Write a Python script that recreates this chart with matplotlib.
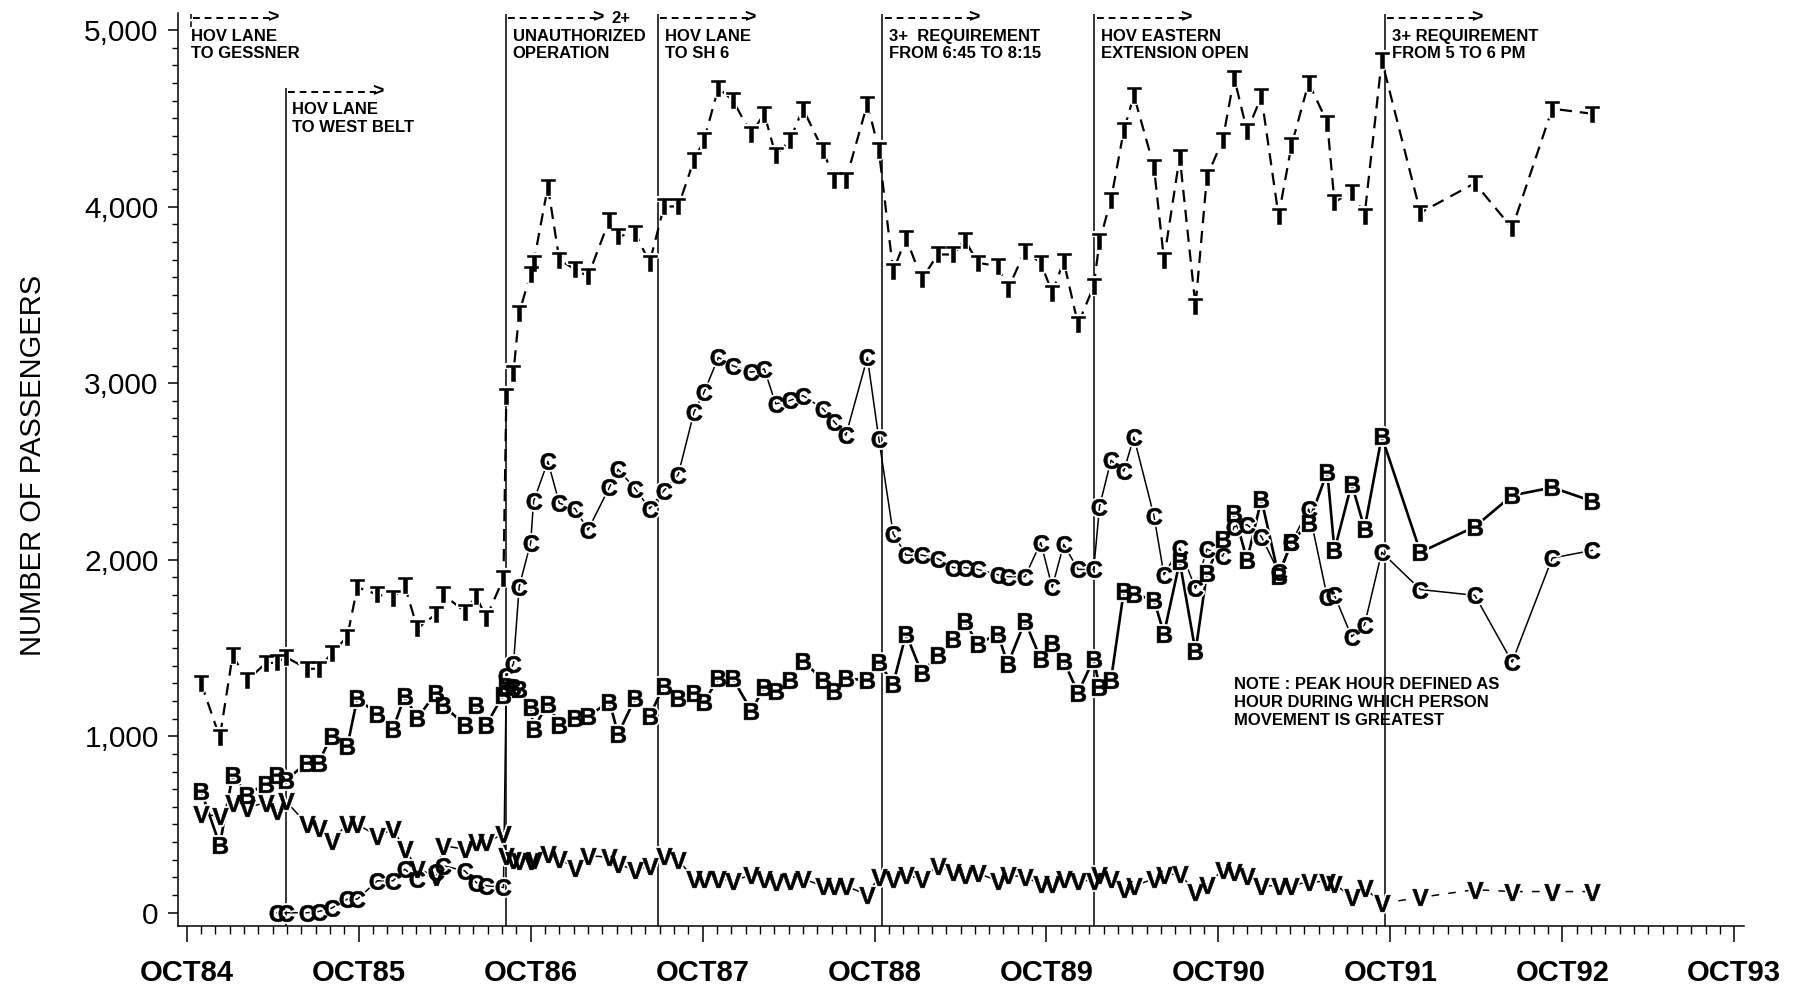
import numpy as np
import matplotlib
matplotlib.use("Agg")
import matplotlib.pyplot as plt

# ---------------- data (months after October 1984) ----------------
months = [1.0, 2.3, 3.2, 4.2, 5.5, 6.3, 6.9, 8.4, 9.2, 10.1, 11.2, 11.9, 13.3, 14.4, 15.2,
          16.1, 17.4, 17.9, 19.4, 20.2, 20.9, 22.1, 22.3, 22.8, 23.2, 24.0, 24.2, 25.2, 26.0,
          27.1, 28.0, 29.5, 30.1, 31.3, 32.3, 33.3, 34.3, 35.4, 36.1, 37.1, 38.1, 39.4, 40.3,
          41.1, 42.1, 43.0, 44.4, 45.2, 46.0, 47.5, 48.3, 49.3, 50.2, 51.3, 52.4, 53.5, 54.3,
          55.2, 56.6, 57.3, 58.5, 59.6, 60.4, 61.2, 62.2, 63.3, 63.7, 64.5, 65.4, 66.1, 67.5,
          68.2, 69.3, 70.4, 71.2, 72.3, 73.1, 74.0, 75.0, 76.2, 77.1, 78.3, 79.6, 80.1, 81.3,
          82.2, 83.4, 86.1, 89.9, 92.5, 95.3, 98.1]

total = [1301, 993, 1459, 1317, 1412, 1418, 1449, 1382, 1382, 1469, 1564, 1844, 1803, 1783, 1854,
         1611, 1692, 1803, 1706, 1793, 1671, 1894, 2928, 3060, 3400, 3620, 3680, 4114, 3700,
         3644, 3606, 3926, 3832, 3851, 3682, 4001, 4001, 4264, 4377, 4673, 4602, 4414, 4527,
         4292, 4377, 4555, 4320, 4151, 4151, 4583, 4320, 3635, 3822, 3588, 3729, 3729, 3813,
         3682, 3663, 3531, 3748, 3682, 3513, 3691, 3334, 3550, 3803, 4038, 4433, 4630, 4226,
         3700, 4283, 3437, 4170, 4378, 4731, 4427, 4624, 3947, 4347, 4702, 4476, 4025, 4084,
         3947, 4830, 3966, 4133, 3878, 4555, 4526]

carpool = [np.nan, np.nan, np.nan, np.nan, np.nan, 0, 0, 0, 7, 26, 77, 77, 181, 181, 247,
           190, 228, 266, 237, 171, 153, 143, 1340, 1410, 1848, 2097, 2330, 2557, 2320,
           2289, 2168, 2411, 2512, 2401, 2289, 2391, 2482, 2836, 2948, 3146, 3099, 3062, 3081,
           2883, 2902, 2930, 2855, 2780, 2705, 3146, 2684, 2148, 2026, 2026, 2006, 1955, 1955,
           1945, 1915, 1904, 1904, 2097, 1844, 2087, 1945, 1945, 2300, 2563, 2502, 2695, 2249,
           1915, 2065, 1838, 2060, 2020, 2187, 2198, 2131, 1930, 2098, 2287, 1787, 1798, 1564,
           1631, 2042, 1831, 1798, 1420, 2009, 2053]

bus = [689, 385, 780, 669, 729, 780, 750, 851, 851, 1003, 942, 1216, 1124, 1043, 1226,
       1104, 1246, 1175, 1064, 1175, 1064, 1236, 1287, 1280, 1266, 1165, 1043, 1185, 1064,
       1104, 1114, 1195, 1013, 1216, 1114, 1287, 1216, 1246, 1195, 1327, 1327, 1145, 1276,
       1256, 1317, 1428, 1317, 1256, 1327, 1317, 1418, 1297, 1580, 1357, 1459, 1550, 1651,
       1520, 1580, 1408, 1651, 1438, 1530, 1428, 1246, 1438, 1276, 1317, 1823, 1803, 1773,
       1580, 1990, 1480, 1927, 2120, 2264, 1998, 2342, 1909, 2098, 2209, 2498, 2053, 2431,
       2176, 2698, 2042, 2187, 2364, 2409, 2331]

vanpool = [557, 548, 624, 595, 624, 577, 633, 501, 482, 407, 501, 501, 435, 473, 360,
           250, 205, 380, 360, 400, 400, 445, 324, 300, 294, 294, 300, 334, 304,
           253, 324, 314, 274, 243, 263, 324, 300, 192, 192, 192, 182, 213, 192,
           172, 182, 192, 152, 152, 152, 101, 203, 192, 213, 192, 263, 233, 213,
           223, 182, 213, 203, 162, 162, 192, 182, 182, 213, 192, 132, 152, 192,
           213, 222, 115, 158, 242, 231, 209, 153, 153, 153, 176, 176, 164, 87,
           142, 53, 87, 131, 120, 120, 120]

x_tick_pos = [0, 12, 24, 36, 48, 60, 72, 84, 96, 108]
x_tick_labels = ["OCT84", "OCT85", "OCT86", "OCT87", "OCT88", "OCT89", "OCT90", "OCT91", "OCT92", "OCT93"]
y_tick_pos = [0, 1000, 2000, 3000, 4000, 5000]
y_tick_labels = ["0", "1,000", "2,000", "3,000", "4,000", "5,000"]

event_months = [0.28, 6.9, 22.3, 32.9, 48.55, 63.35, 83.65]
event_labels = ["HOV LANE\nTO GESSNER", "HOV LANE\nTO WEST BELT", "UNAUTHORIZED\nOPERATION",
                "HOV LANE\nTO SH 6", "3+  REQUIREMENT\nFROM 6:45 TO 8:15",
                "HOV EASTERN\nEXTENSION OPEN", "3+ REQUIREMENT\nFROM 5 TO 6 PM"]
event_tops = [5090, 4672, 5090, 5090, 5090, 5090, 5090]
note_text = "NOTE : PEAK HOUR DEFINED AS\nHOUR DURING WHICH PERSON\nMOVEMENT IS GREATEST"

# ---------------- fonts ----------------
ann_family, ann_size = "Liberation Sans", 12
plt.rcParams["font.family"] = ["Liberation Sans", "DejaVu Sans"]
plt.rcParams["mathtext.fontset"] = "custom"
plt.rcParams["mathtext.rm"] = "Liberation Sans:bold"
plt.rcParams["mathtext.it"] = "Liberation Sans:bold"
plt.rcParams["mathtext.bf"] = "Liberation Sans:bold"
plt.rcParams["mathtext.default"] = "rm"

fig = plt.figure(figsize=(18.06, 9.96), dpi=100)
ax = fig.add_axes([0.0986, 0.0703, 0.9658 - 0.0986, 0.9866 - 0.0703])
ax.set_xlim(-0.61, 108.7)
ax.set_ylim(-75, 5095)

x = np.array(months)
series = [
    (np.array(total, float), "$T$", dict(lw=1.6, dashes=[5.5, 3.5])),
    (np.array(carpool, float), "$C$", dict(lw=1.1, ls="-")),
    (np.array(bus, float), "$B$", dict(lw=1.9, ls="-")),
]
van = np.array(vanpool, float)

# lines
for y, m, style in series:
    ax.plot(x, y, color="black", zorder=2, **style)
split = x <= 83.4
ax.plot(x[split], van[split], color="black", lw=1.1, ls="-", zorder=2)
ax.plot(x[x >= 83.4], van[x >= 83.4], color="black", lw=1.1, dashes=[5, 6], zorder=2)

all_series = [(s[0], s[1]) for s in series] + [(van, "$V$")]
# white halo around letters (breaks the lines near markers)
for y, m in all_series:
    ax.plot(x, y, ls="none", marker=m, ms=12, mfc="white", mec="white", mew=3.0, zorder=3)
for y, m in all_series:
    ax.plot(x, y, ls="none", marker=m, ms=12, mfc="black", mec="black", mew=0.4, zorder=4)

# event lines, arrows and labels
ymin = ax.get_ylim()[0]
for i, (em, lab, top) in enumerate(zip(event_months, event_labels, event_tops)):
    bottom = top - 70 if i == 0 else ymin
    ax.vlines(em, bottom, top, colors="black", lw=1.1, zorder=1,
              linestyles="--" if i == 0 else "-")
    ay = top - 22
    alen = 5.6 if i == 0 else 6.3
    ax.plot([em + 0.15, em + alen], [ay, ay], color="black", lw=1.4, dashes=[3.5, 2.5], zorder=1)
    ax.text(em + alen - 0.3, ay, ">", fontsize=14, fontweight="bold", family=ann_family,
            va="center", ha="left")
    if i == 2:
        ax.text(em + alen + 1.0, ay, "2+", fontsize=ann_size, fontweight="bold",
                family=ann_family, va="center", ha="left")
    ax.text(em + (0.0 if i == 0 else 0.45), top - 82, lab, fontsize=ann_size,
            fontweight="bold", family=ann_family, va="top", ha="left", linespacing=1.22)

ax.text(73.1, 1335, note_text, fontsize=ann_size, fontweight="bold", family=ann_family,
        va="top", ha="left", linespacing=1.25)

# axes styling
for s in ["top", "right"]:
    ax.spines[s].set_visible(False)
for s in ["left", "bottom"]:
    ax.spines[s].set_linewidth(1.1)

ax.set_xticks(x_tick_pos)
ax.set_xticklabels(x_tick_labels, fontsize=21, fontweight="bold")
ax.set_xticks(np.arange(0, 109, 1), minor=True)
ax.set_yticks(y_tick_pos)
ax.set_yticklabels(y_tick_labels, fontsize=21.5)
ax.set_yticks(np.arange(0, 5001, 100), minor=True)
ax.tick_params(axis="x", which="major", direction="out", length=11.5, width=1.1, pad=12)
ax.tick_params(axis="x", which="minor", direction="out", length=5.5, width=1.0)
ax.tick_params(axis="y", which="major", direction="out", length=7, width=1.1, pad=7)
ax.tick_params(axis="y", which="minor", direction="out", length=4.5, width=1.0)

fig.text(0.0183, 0.533, "NUMBER OF PASSENGERS", rotation=90, fontsize=21,
         ha="center", va="center")

fig.savefig("out.png", dpi=100, facecolor="white")
